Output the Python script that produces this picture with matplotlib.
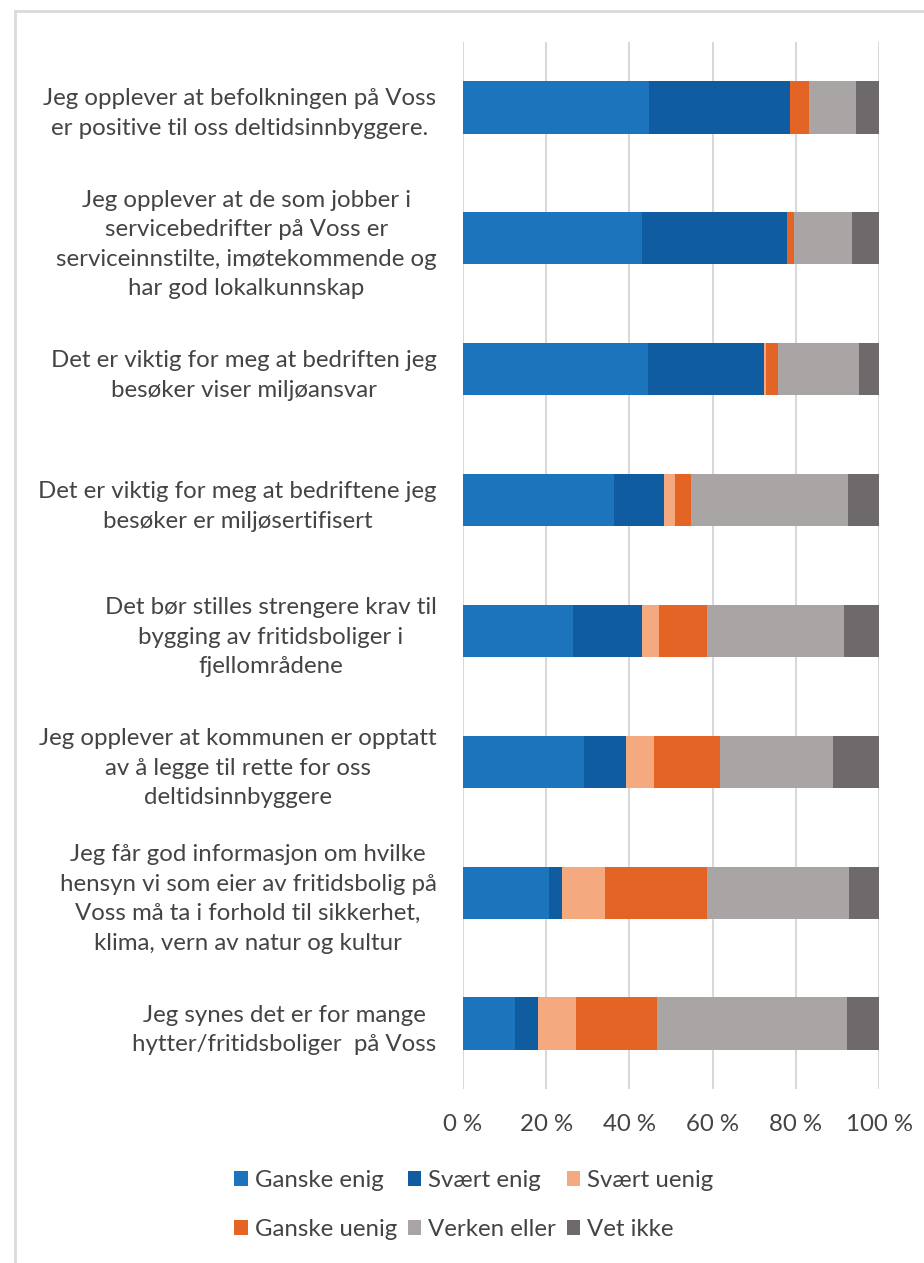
import numpy as np
import matplotlib.pyplot as plt
from matplotlib.patches import Rectangle, Patch

plt.rcParams['font.family'] = ['Lato', 'DejaVu Sans']

# --- data (percent of respondents, 100 % stacked) ---
statements = [
    "Jeg opplever at befolkningen på Voss\ner positive til oss deltidsinnbyggere.",
    "Jeg opplever at de som jobber i\nservicebedrifter på Voss er\nserviceinnstilte, imøtekommende og\nhar god lokalkunnskap",
    "Det er viktig for meg at bedriften jeg\nbesøker viser miljøansvar",
    "Det er viktig for meg at bedriftene jeg\nbesøker er miljøsertifisert",
    "Det bør stilles strengere krav til\nbygging av fritidsboliger i\nfjellområdene",
    "Jeg opplever at kommunen er opptatt\nav å legge til rette for oss\ndeltidsinnbyggere",
    "Jeg får god informasjon om hvilke\nhensyn vi som eier av fritidsbolig på\nVoss må ta i forhold til sikkerhet,\nklima, vern av natur og kultur",
    "Jeg synes det er for mange\nhytter/fritidsboliger  på Voss",
]
ganske_enig = [44.6, 43.1, 44.6, 36.3, 26.4, 29.2, 20.7, 12.6]
svaert_enig = [33.9, 34.7, 27.9, 12.0, 16.7, 10.1, 3.2, 5.4]
svaert_uenig = [0.0, 0.0, 0.3, 2.7, 4.0, 6.7, 10.2, 9.1]
ganske_uenig = [4.6, 1.8, 3.0, 3.9, 11.6, 15.7, 24.7, 19.4]
verken_eller = [11.2, 13.8, 19.4, 37.7, 32.8, 27.2, 34.1, 45.8]
vet_ikke = [5.6, 6.6, 4.9, 7.4, 8.5, 11.1, 7.2, 7.6]

series_names = ["Ganske enig", "Svært enig", "Svært uenig",
                "Ganske uenig", "Verken eller", "Vet ikke"]
series_colors = ["#1c75bc", "#0f5ca1", "#f5a97f",
                 "#e46425", "#a8a5a4", "#6e6a6b"]
xticks = [0, 20, 40, 60, 80, 100]

text_color = "#444444"
fs = 17.3

data = np.array([ganske_enig, svaert_enig, svaert_uenig,
                 ganske_uenig, verken_eller, vet_ikke])
data = data / data.sum(axis=0) * 100  # 100 % stacked

fig = plt.figure(figsize=(9.24, 12.63), dpi=100)
ax = fig.add_axes([463 / 924, 1 - 1089 / 1263, 416 / 924, 1047 / 1263])

y = np.arange(len(statements))
left = np.zeros(len(statements))
handles = []
for vals, name, col in zip(data, series_names, series_colors):
    ax.barh(y, vals, left=left, height=0.4, color=col, linewidth=0, zorder=3)
    left += vals
    handles.append(Patch(facecolor=col, edgecolor='none', label=name))

ax.set_xlim(0, 100)
ax.set_ylim(len(statements) - 0.5, -0.5)
ax.set_xticks(xticks)
ax.set_xticklabels([f"{t} %" for t in xticks])
ax.set_yticks(y)
ax.set_yticklabels(statements)
for lbl in ax.get_yticklabels():
    lbl.set_multialignment('center')
    lbl.set_linespacing(1.5)

ax.grid(axis='x', color='#d9d9d9', linewidth=1.5, zorder=0)
for s in ax.spines.values():
    s.set_visible(False)
ax.tick_params(axis='both', length=0, colors=text_color, labelsize=fs)
ax.tick_params(axis='x', pad=18)
ax.tick_params(axis='y', pad=19)

# legend: Excel fills rows, matplotlib fills columns -> reorder
order = [0, 3, 1, 4, 2, 5]
fig.legend([handles[i] for i in order], [series_names[i] for i in order],
           ncol=3, loc='center', bbox_to_anchor=(0.513, 1 - 1205 / 1263),
           frameon=False, fontsize=fs, labelcolor=text_color,
           handlelength=0.55, handleheight=0.55, handletextpad=0.3,
           columnspacing=0.45, labelspacing=1.15)

# chart area border (cropped at right and bottom)
fig.add_artist(Rectangle((15 / 924, -0.1), 1.2, 1.1 - 11 / 1263,
                         transform=fig.transFigure, fill=False,
                         edgecolor='#d9d9d9', linewidth=2))

fig.savefig('out.png', dpi=100)
